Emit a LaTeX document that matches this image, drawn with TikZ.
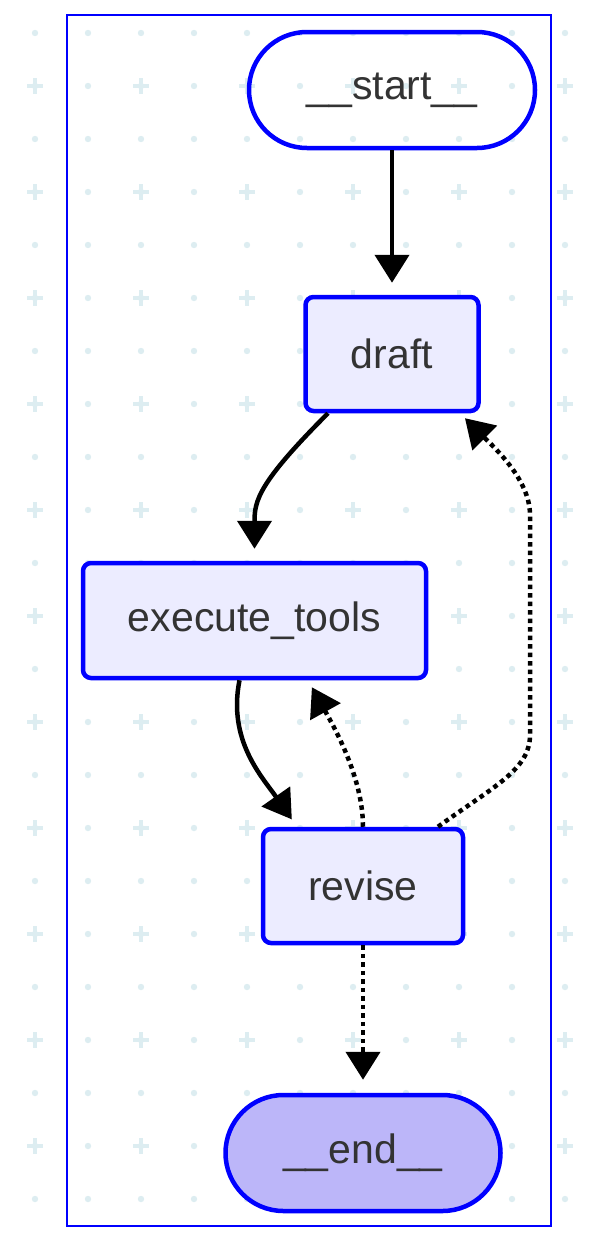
\documentclass[tikz,border=0pt]{standalone}
\usepackage{fontspec}
\setmainfont{Liberation Sans}
\usepackage{tikz}
\usetikzlibrary{arrows.meta,calc}
\usepackage{xcolor}
\definecolor{GraphBlue}{HTML}{0000FF}
\definecolor{GraphFill}{HTML}{ECECFF}
\definecolor{GraphEnd}{HTML}{BCB6F9}
\definecolor{GraphText}{HTML}{333333}
\definecolor{GraphGrid}{HTML}{DDEDF1}

\begin{document}
\begin{tikzpicture}[x=1pt,y=-1pt,>={Triangle[length=28pt,width=34pt]},
  box/.style={draw=GraphBlue,line width=4.5pt,rounded corners=8pt,fill=GraphFill,
    text=GraphText,font=\fontsize{41}{49}\selectfont,minimum height=114pt,inner sep=0pt},
  pill/.style={box,rounded corners=58pt,minimum height=116pt},
  flow/.style={->,line width=4.5pt},
  loopback/.style={flow,dash pattern=on 4.5pt off 4pt}]
  \useasboundingbox (0,0) rectangle (598,1242);
  \fill[white] (0,0) rectangle (598,1242);
  \foreach \x in {35,88,...,565}
    \foreach \y in {33,86,...,1199}
      \fill[GraphGrid] (\x,\y) circle (3.2pt);
  \foreach \x in {35,141,...,565}
    \foreach \y in {86,192,...,1146}
      \draw[GraphGrid,line width=4.8pt] (\x-8,\y) -- (\x+8,\y) (\x,\y-8) -- (\x,\y+8);
  \draw[GraphBlue,line width=2pt] (67,15) rectangle (551,1226);

  \node[pill,fill=none,minimum width=286pt] (start) at (392,90) {\_\_start\_\_};
  \node[box,minimum width=173pt] (draft) at (392,354) {draft};
  \node[box,minimum width=343pt,minimum height=115pt] (tools) at (254.5,620.5) {execute\_tools};
  \node[box,minimum width=200pt] (revise) at (363,886) {revise};
  \node[pill,fill=GraphEnd,minimum width=275pt] (finish) at (363,1153) {\_\_end\_\_};
  \coordinate (backlow) at (530,735);
  \coordinate (backhigh) at (530,515);

  \draw[flow,shorten >=12pt] (start) -- (draft);
  \draw[flow,shorten >=12pt] ([xshift=-64pt]draft.south)
    .. controls +(-70,70) and +(0,-60) .. (tools.north);
  \draw[flow,shorten >=9pt] ([xshift=-15pt]tools.south)
    .. controls +(-12,60) and +(-35,-50) .. ([xshift=-66pt]revise.north);
  \draw[loopback,shorten >=8pt] (revise.north)
    .. controls +(0,-50) and +(25,45) .. ([xshift=53.5pt]tools.south);
  \draw[loopback,shorten >=7pt] ([xshift=75pt]revise.north)
    .. controls +(55,-40) and +(0,35) .. (backlow) -- (backhigh)
    .. controls +(0,-35) and +(35,35) .. ([xshift=68pt]draft.south);
  \draw[loopback,shorten >=13pt] (revise) -- (finish);
\end{tikzpicture}
\end{document}
